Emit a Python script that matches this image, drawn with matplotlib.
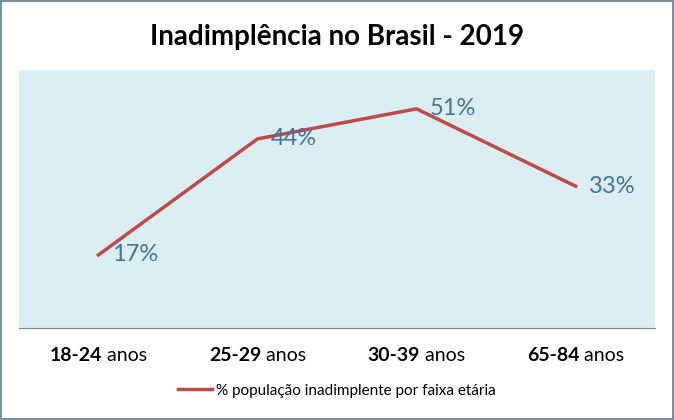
import matplotlib.pyplot as plt
from matplotlib.patches import Rectangle
from matplotlib.lines import Line2D

# data
faixas = ["18-24", "25-29", "30-39", "65-84"]
inadimplentes = [17, 44, 51, 33]
serie = "% população inadimplente por faixa etária"
titulo = "Inadimplência no Brasil - 2019"

plt.rcParams["font.family"] = ["Lato", "DejaVu Sans"]

fig = plt.figure(figsize=(6.74, 4.2), dpi=100)
ax = fig.add_axes([0.028, 0.219, 0.944, 0.614])
ax.set_facecolor("#dbeef4")

x = list(range(len(faixas)))
ax.plot(x, inadimplentes, color="#be4b48", linewidth=2.5)
for xi, v in zip(x, inadimplentes):
    ax.annotate(f"{v}%", (xi, v), xytext=(9.5, 0), textcoords="offset points",
                ha="left", va="center", fontsize=17, color="#44729f")

ax.set_xlim(-0.5, len(faixas) - 0.5)
ax.set_ylim(0, 60)
ax.set_yticks([])
ax.set_xticks([])
for s in ["top", "left", "right"]:
    ax.spines[s].set_visible(False)
ax.spines["bottom"].set_color("#868686")

# category labels: bold range + regular "anos", centred together
tr = ax.get_xaxis_transform()
renderer = fig.canvas.get_renderer()
for xi, f in zip(x, faixas):
    t1 = ax.text(xi, -0.105, f, transform=tr, ha="left", va="center",
                 fontsize=14, fontweight="bold")
    t2 = ax.annotate(" anos", xy=(1, 0.5), xycoords=t1, ha="left", va="center",
                     fontsize=14)
    w1 = t1.get_window_extent(renderer).width
    w2 = t2.get_window_extent(renderer).width
    px = ax.transData.transform((xi, 0))[0] - (w1 + w2) / 2
    t1.set_x(ax.transData.inverted().transform((px, 0))[0])

fig.text(0.5, 0.912, titulo, ha="center", va="center", fontsize=20, fontweight="bold")

fig.legend([Line2D([], [], color="#be4b48", linewidth=2.5)], [serie],
           loc="center", bbox_to_anchor=(0.5, 0.07), frameon=False,
           fontsize=11, handlelength=2.2, handletextpad=0.3)

fig.patches.append(Rectangle((0.002, 0.003), 0.996, 0.994, transform=fig.transFigure,
                             fill=False, edgecolor="#5f7c8a", linewidth=1.2))

fig.savefig("out.png", dpi=100)
